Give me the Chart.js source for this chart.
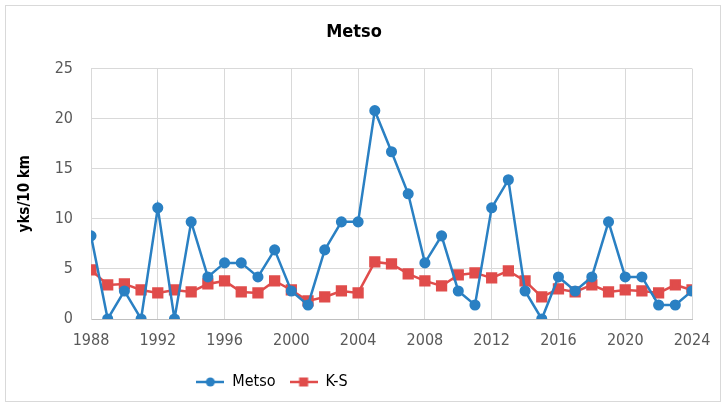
<!DOCTYPE html>
<html>
<head>
<meta charset="utf-8">
<script src="https://cdn.jsdelivr.net/npm/chart.js@4/dist/chart.umd.min.js"></script>
<style>
  html, body { margin: 0; padding: 0; background: #fff; }
  #wrap { position: relative; width: 725px; height: 406px; }
  #frame { position: absolute; left: 5px; top: 5px; width: 714px; height: 395px; border: 1px solid #d9d9d9; }
  canvas { position: absolute; left: 0; top: 0; }
</style>
</head>
<body>
<div id="wrap">
  <div id="frame"></div>
  <canvas id="chart" width="725" height="406"></canvas>
</div>
<script>
const years = [1988, 1989, 1990, 1991, 1992, 1993, 1994, 1995, 1996, 1997, 1998, 1999,
    2000, 2001, 2002, 2003, 2004, 2005, 2006, 2007, 2008, 2009, 2010, 2011,
    2012, 2013, 2014, 2015, 2016, 2017, 2018, 2019, 2020, 2021, 2022, 2023, 2024];
const metso = [8.3, 0, 2.8, 0, 11.1, 0, 9.7, 4.2, 5.6, 5.6, 4.2, 6.9,
    2.8, 1.4, 6.9, 9.7, 9.7, 20.8, 16.7, 12.5, 5.6, 8.3, 2.8, 1.4,
    11.1, 13.9, 2.8, 0, 4.2, 2.8, 4.2, 9.7, 4.2, 4.2, 1.4, 1.4, 2.8];
const ks = [4.9, 3.4, 3.5, 2.9, 2.6, 2.9, 2.7, 3.5, 3.8, 2.7, 2.6, 3.8,
    2.9, 1.8, 2.2, 2.8, 2.6, 5.7, 5.5, 4.5, 3.8, 3.3, 4.4, 4.6,
    4.1, 4.8, 3.8, 2.2, 3.0, 2.7, 3.4, 2.7, 2.9, 2.8, 2.6, 3.4, 2.9];

const blue = '#2a80c3';
const red = '#e04c4b';
const fontFam = "'Liberation Sans Narrow', 'DejaVu Sans Condensed', 'Liberation Sans', sans-serif";

// legend icon: short line with the marker in the middle
function legendIcon(color, shape) {
    const c = document.createElement('canvas');
    c.width = 28;
    c.height = 12;
    const g = c.getContext('2d');
    g.strokeStyle = color;
    g.lineWidth = 2.5;
    g.beginPath();
    g.moveTo(0, 6);
    g.lineTo(28, 6);
    g.stroke();
    g.fillStyle = color;
    if (shape === 'circle') {
        g.beginPath();
        g.arc(14, 6, 4.5, 0, Math.PI * 2);
        g.fill();
    } else {
        g.fillRect(9.5, 1.5, 9, 9);
    }
    return c;
}
const icons = [legendIcon(blue, 'circle'), legendIcon(red, 'rect')];

const toPoints = (arr) => arr.map((v, i) => ({ x: years[i], y: v }));

// excel puts the legend a bit left of centre
const legendShift = {
    id: 'legendShift',
    afterLayout(chart) {
        chart.legend.left -= 82;
        chart.legend.right -= 82;
    }
};

const ctx = document.getElementById('chart');
new Chart(ctx, {
    type: 'line',
    data: {
        datasets: [{
            label: 'Metso',
            data: toPoints(metso),
            borderColor: blue,
            backgroundColor: blue,
            borderWidth: 2.5,
            pointStyle: 'circle',
            pointRadius: 4.3,
            tension: 0
        }, {
            label: 'K-S',
            data: toPoints(ks),
            borderColor: red,
            backgroundColor: red,
            borderWidth: 2.5,
            pointStyle: 'rect',
            pointRadius: 6.2,
            tension: 0
        }]
    },
    options: {
        responsive: false,
        animation: false,
        layout: { padding: { left: 16, right: 33, top: 0, bottom: 6 } },
        plugins: {
            title: {
                display: true,
                text: 'Metso',
                color: '#000',
                font: { family: fontFam, size: 18, weight: 'bold' },
                padding: { top: 22, bottom: 25 }
            },
            legend: {
                position: 'bottom',
                labels: {
                    usePointStyle: true,
                    pointStyleWidth: 28,
                    color: '#000',
                    font: { family: fontFam, size: 16 },
                    padding: 14,
                    generateLabels(chart) {
                        const items = Chart.defaults.plugins.legend.labels.generateLabels(chart);
                        items.forEach((it, i) => { it.pointStyle = icons[i]; });
                        return items;
                    }
                }
            },
            tooltip: { enabled: false }
        },
        scales: {
            x: {
                type: 'linear',
                min: 1988,
                max: 2024,
                grid: { color: '#d9d9d9', drawTicks: false },
                border: { color: '#bfbfbf' },
                ticks: {
                    stepSize: 4,
                    padding: 12,
                    color: '#595959',
                    font: { family: fontFam, size: 16 },
                    callback: (v) => String(v)
                },
                afterFit(scale) { scale.height = 41; }
            },
            y: {
                min: 0,
                max: 25,
                grid: { color: '#d9d9d9', drawTicks: false },
                border: { color: '#d9d9d9' },
                ticks: {
                    stepSize: 5,
                    padding: 18,
                    color: '#595959',
                    font: { family: fontFam, size: 16 }
                },
                title: {
                    display: true,
                    text: 'yks/10 km',
                    color: '#000',
                    font: { family: fontFam, size: 15, weight: 'bold' },
                    padding: { top: 0, bottom: 0 }
                },
                afterFit(scale) { scale.width = 75; }
            }
        }
    },
    plugins: [legendShift]
});
</script>
</body>
</html>
